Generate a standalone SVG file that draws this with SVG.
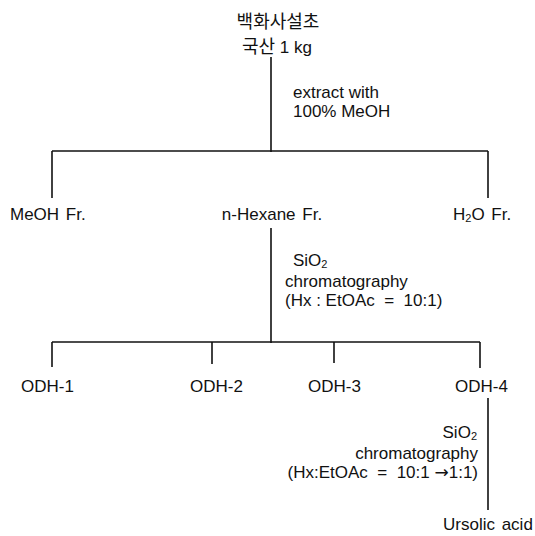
<svg xmlns="http://www.w3.org/2000/svg" width="535" height="536" viewBox="0 0 535 536">
<style>
text{font-family:"Liberation Sans","Noto Sans CJK KR",sans-serif;font-size:17px;fill:#111}
.ko{font-family:"Noto Sans CJK KR",sans-serif;font-size:18px}
.c{text-anchor:middle}
.e{text-anchor:end}
.sub{font-size:11px}
.arr{font-family:"DejaVu Sans",sans-serif}
line{stroke:#111;stroke-width:1.6;fill:none}
</style>
<rect width="535" height="536" fill="#fff"/>
<g id="connectors">
<line x1="271" y1="57" x2="271" y2="152"/>
<line x1="52" y1="151" x2="488" y2="151"/>
<line x1="52" y1="151" x2="52" y2="198"/>
<line x1="488" y1="151" x2="488" y2="198"/>
<line x1="271" y1="228" x2="271" y2="343"/>
<line x1="52" y1="342" x2="480" y2="342"/>
<line x1="52" y1="342" x2="52" y2="367"/>
<line x1="212" y1="342" x2="212" y2="364"/>
<line x1="334" y1="342" x2="334" y2="363"/>
<line x1="480" y1="342" x2="480" y2="368"/>
<line x1="488" y1="398" x2="488" y2="510"/>
</g>
<g id="source">
<text class="c ko" x="278" y="28">백화사설초</text>
<text class="c" x="277" y="53"><tspan class="ko">국산</tspan> 1 kg</text>
</g>
<g id="step1-label">
<text x="293" y="98">extract with</text>
<text x="293" y="117">100% MeOH</text>
</g>
<g id="meoh"><text x="10" y="220" word-spacing="2">MeOH Fr.</text></g>
<g id="hexane"><text class="c" x="272" y="220" word-spacing="2">n-Hexane Fr.</text></g>
<g id="h2o"><text x="453" y="220" word-spacing="2">H<tspan class="sub" dy="2">2</tspan><tspan dy="-2">O Fr.</tspan></text></g>
<g id="step2-label">
<text x="293" y="266">SiO<tspan class="sub" dy="2">2</tspan></text>
<text x="285" y="287">chromatography</text>
<text x="285" y="306" xml:space="preserve">(Hx : EtOAc  =  10:1)</text>
</g>
<g id="odh1"><text x="21" y="392">ODH-1</text></g>
<g id="odh2"><text x="190" y="392">ODH-2</text></g>
<g id="odh3"><text x="308" y="392">ODH-3</text></g>
<g id="odh4"><text x="455" y="392">ODH-4</text></g>
<g id="step3-label">
<text class="e" x="477" y="438">SiO<tspan class="sub" dy="2">2</tspan></text>
<text class="e" x="478" y="459">chromatography</text>
<text class="e" x="478" y="478" xml:space="preserve">(Hx:EtOAc  =  10:1 <tspan class="arr">→</tspan>1:1)</text>
</g>
<g id="ursolic"><text x="443" y="530" word-spacing="2">Ursolic acid</text></g>
</svg>
